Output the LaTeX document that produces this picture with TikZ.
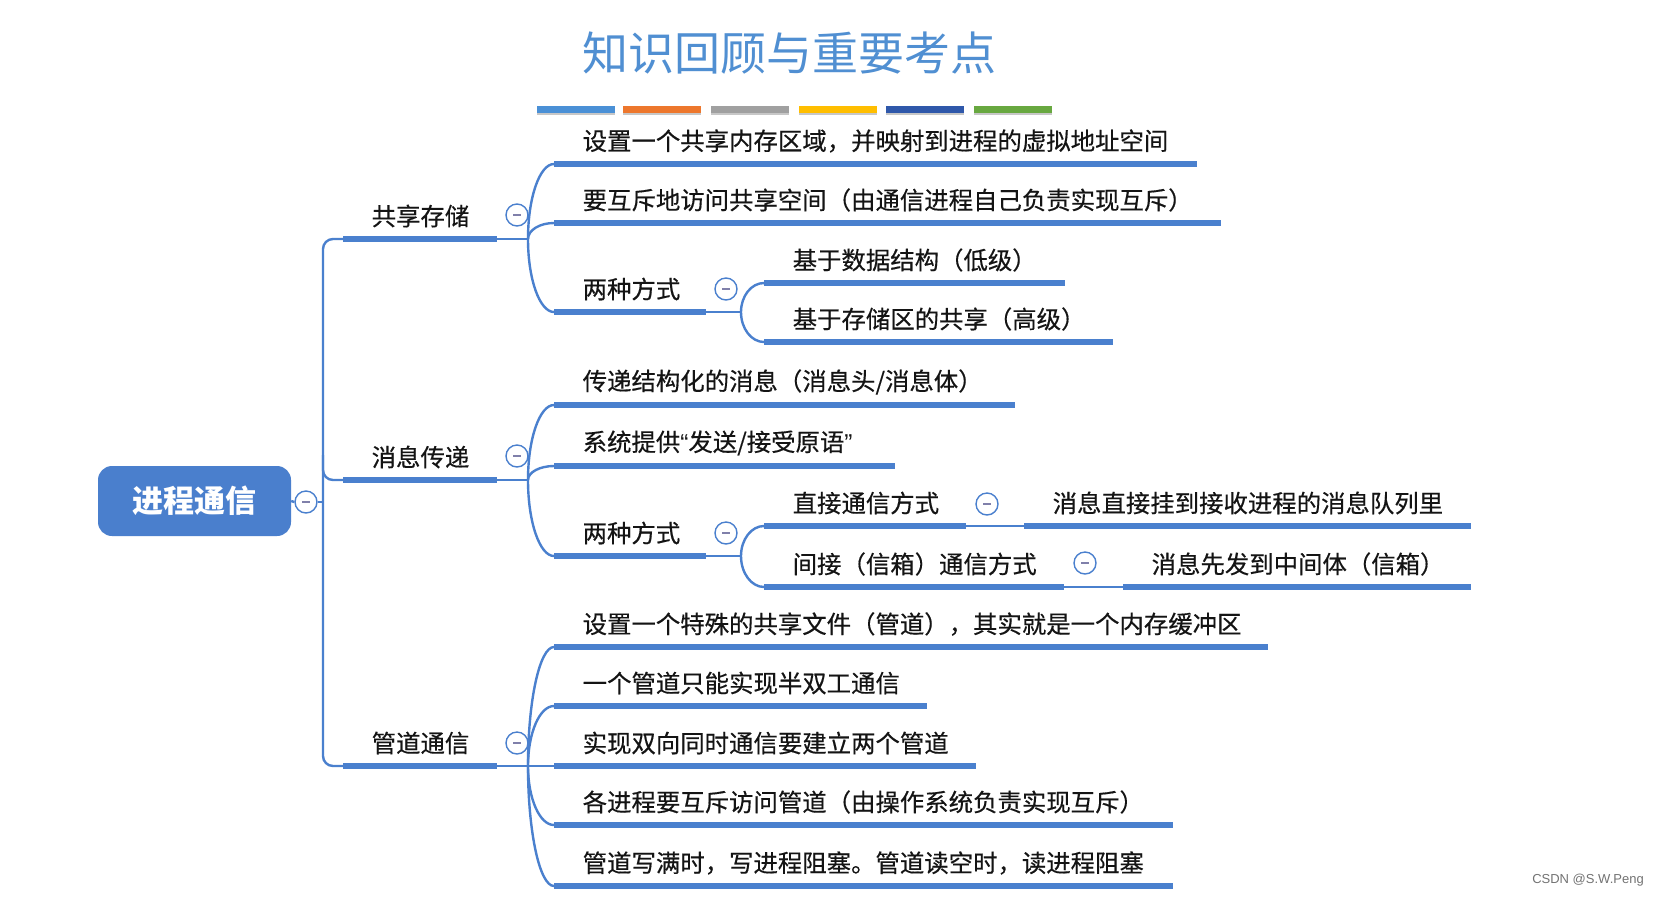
\documentclass[tikz,border=0pt]{standalone}
\usepackage{fontspec}
\usetikzlibrary{calc}
\setmainfont{Noto Sans CJK SC}
\newfontfamily\cjkm{Noto Sans CJK SC}[FakeBold=0.4]
\newfontfamily\latinfont{Liberation Sans}
\definecolor{mblue}{RGB}{74,128,206}
\definecolor{rootblue}{RGB}{74,127,205}
\definecolor{titleblue}{RGB}{80,143,210}
\definecolor{minusc}{RGB}{128,128,170}
\definecolor{txtc}{RGB}{20,20,20}
\definecolor{barA}{RGB}{74,144,214}
\definecolor{barB}{RGB}{237,119,45}
\definecolor{barC}{RGB}{160,160,160}
\definecolor{barD}{RGB}{255,190,0}
\definecolor{barE}{RGB}{47,88,170}
\definecolor{barF}{RGB}{104,168,64}
\newcommand\mytopic[5]{%
  \coordinate (#1a) at (#2,-#3);
  \coordinate (#1b) at ({#2+#4},-#3);
  \draw[uline] (#1a) -- (#1b);
  \node[txt] (#1) at ({#2+28.5},{-#3+23}) {#5};
}
\newcommand\branch[2]{\draw[conn] let \p1=(#1), \p2=(#2) in (#1) .. controls (\x1,{\y1+0.552*(\y2-\y1)}) and ({\x2-0.552*(\x2-\x1)},\y2) .. (#2);}
\begin{document}
\begin{tikzpicture}[x=1pt,y=1pt,
  conn/.style={draw=mblue, line width=2.4pt},
  uline/.style={draw=mblue, line width=6pt},
  txt/.style={font=\cjkm\fontsize{24.4}{28}\selectfont, text=txtc, inner sep=0pt, anchor=west},
  fold/.style={circle, draw=mblue, line width=1.4pt, fill=white, minimum size=22pt, inner sep=0pt,
    path picture={\draw[minusc, line width=2pt] ([xshift=-4pt]path picture bounding box.center) -- ([xshift=4pt]path picture bounding box.center);}},
  root/.style={rectangle, rounded corners=14pt, fill=rootblue, text=white, minimum width=193pt, minimum height=70pt, inner sep=0pt, font=\fontsize{31}{36}\selectfont\bfseries},
  titlestyle/.style={text=titleblue, inner sep=0pt, font=\fontsize{46}{52}\selectfont},
]
\fill[white] (0,0) rectangle (1657,-898);
\useasboundingbox (0,0) rectangle (1657,-898);

% title
\node[titlestyle] (title) at (789,-53) {知识回顾与重要考点};
\foreach \c/\x in {barA/576, barB/662, barC/750, barD/838, barE/925, barF/1013}{
  \fill[black!22] (\x-39,-111.5) rectangle (\x+39,-114.5);
  \fill[\c] (\x-39,-105.5) rectangle (\x+39,-112.5);
}

% root
\node[root] (root) at (194.5,-501) {进程通信};
\node[fold] (f0) at (306,-502) {};
\coordinate (trunk) at (323,-502);
\draw[conn] (root.east) -- (f0.west);
\draw[conn] (f0.east) -- (trunk);

% level 1
\mytopic{g1}{343}{239}{154}{共享存储}
\mytopic{g2}{343}{480}{154}{消息传递}
\mytopic{g3}{343}{766}{154}{管道通信}
\draw[conn, rounded corners=10pt] (g1a) -| (trunk) |- (g3a);
\draw[conn, rounded corners=10pt] ([yshift=25pt]trunk |- g2a) |- (g2a);

\coordinate (g1p) at (528,-239);
\coordinate (g2p) at (528,-480);
\coordinate (g3p) at (528,-766);
\draw[conn] (g1b) -- (g1p);
\draw[conn] (g2b) -- (g2p);
\draw[conn] (g3b) -- (g3p);

% 共享存储
\mytopic{c11}{554}{164}{643}{设置一个共享内存区域，并映射到进程的虚拟地址空间}
\mytopic{c12}{554}{223}{667}{要互斥地访问共享空间（由通信进程自己负责实现互斥）}
\mytopic{c13}{554}{312}{152}{两种方式}
\branch{g1p}{c11a}
\branch{g1p}{c12a}
\branch{g1p}{c13a}
\coordinate (c13p) at (741,-312);
\draw[conn] (c13b) -- (c13p);
\mytopic{c131}{764}{283}{301}{基于数据结构（低级）}
\mytopic{c132}{764}{342}{349}{基于存储区的共享（高级）}
\branch{c13p}{c131a}
\branch{c13p}{c132a}

% 消息传递
\mytopic{c21}{554}{405}{461}{传递结构化的消息（消息头/消息体）}
\mytopic{c22}{554}{466}{341}{系统提供{\latinfont “}发送/接受原语{\latinfont ”}}
\mytopic{c23}{554}{556}{152}{两种方式}
\branch{g2p}{c21a}
\branch{g2p}{c22a}
\branch{g2p}{c23a}
\coordinate (c23p) at (741,-556);
\draw[conn] (c23b) -- (c23p);
\mytopic{c231}{764}{526}{202}{直接通信方式}
\mytopic{c232}{764}{587}{300}{间接（信箱）通信方式}
\branch{c23p}{c231a}
\branch{c23p}{c232a}
\mytopic{d1}{1024}{526}{447}{消息直接挂到接收进程的消息队列里}
\mytopic{d2}{1123}{587}{348}{消息先发到中间体（信箱）}
\draw[conn] (c231b) -- (d1a);
\draw[conn] (c232b) -- (d2a);

% 管道通信
\mytopic{c31}{554}{647}{714}{设置一个特殊的共享文件（管道），其实就是一个内存缓冲区}
\mytopic{c32}{554}{706}{373}{一个管道只能实现半双工通信}
\mytopic{c33}{554}{766}{422}{实现双向同时通信要建立两个管道}
\mytopic{c34}{554}{825}{619}{各进程要互斥访问管道（由操作系统负责实现互斥）}
\mytopic{c35}{554}{886}{619}{管道写满时，写进程阻塞。管道读空时，读进程阻塞}
\branch{g3p}{c31a}
\branch{g3p}{c32a}
\draw[conn] (g3p) -- (c33a);
\branch{g3p}{c34a}
\branch{g3p}{c35a}

% fold markers
\node[fold] (f1) at (517,-215) {};
\node[fold] (f2) at (517,-456) {};
\node[fold] (f3) at (517,-743) {};
\node[fold] (f13) at (726,-289) {};
\node[fold] (f23) at (726,-533) {};
\node[fold] (f231) at (987,-504) {};
\node[fold] (f232) at (1085,-563) {};

% credit
\node[font=\latinfont\fontsize{13}{15}\selectfont, text=black!55, inner sep=0pt] (credit) at (1588,-880) {CSDN @S.W.Peng};
\end{tikzpicture}
\end{document}
